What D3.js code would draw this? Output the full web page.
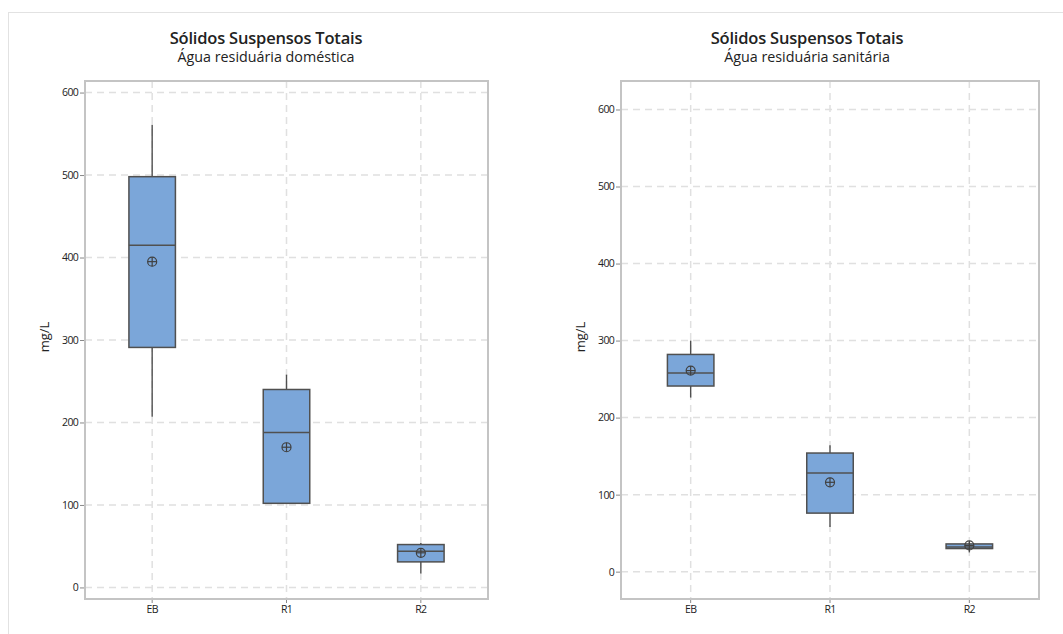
<!DOCTYPE html>
<html><head><meta charset="utf-8">
<script src="https://cdn.jsdelivr.net/npm/d3@7"></script>
<style>body{margin:0;background:#fff;} text{font-family:"Open Sans","Noto Sans",sans-serif;}</style>
</head><body>
<svg id="chart" width="1063" height="634"></svg>
<script>
const categories = ["EB", "R1", "R2"];
const yTicks = [0, 100, 200, 300, 400, 500, 600];
const titleMain = "Sólidos Suspensos Totais";
const subtitles = ["Água residuária doméstica", "Água residuária sanitária"];
const yLabel = "mg/L";
// domestic
const domesticWLow = [207, 102, 17];
const domesticQ1 = [291, 102, 31];
const domesticMed = [415, 188, 44];
const domesticQ3 = [498, 240, 52];
const domesticWHigh = [561, 258, 54];
const domesticMean = [395, 170, 42];
// sanitary
const sanitaryWLow = [226, 58, 25];
const sanitaryQ1 = [241, 76, 30];
const sanitaryMed = [258, 128, 32];
const sanitaryQ3 = [282, 154, 36];
const sanitaryWHigh = [300, 164, 38];
const sanitaryMean = [261, 116, 34];

const yDomains = [[-14, 614], [-35.5, 637]];

const panels = [
  {x0: 85, x1: 488, y0: 81, y1: 599, titleX: 266, labelX: 44,
   data: {lo: domesticWLow, q1: domesticQ1, med: domesticMed, q3: domesticQ3, hi: domesticWHigh, mean: domesticMean}},
  {x0: 621, x1: 1039, y0: 81, y1: 599, titleX: 807, labelX: 580,
   data: {lo: sanitaryWLow, q1: sanitaryQ1, med: sanitaryMed, q3: sanitaryQ3, hi: sanitaryWHigh, mean: sanitaryMean}}
];

const svg = d3.select("#chart");
svg.append("rect").attr("x", 8.5).attr("y", 12.5).attr("width", 1100).attr("height", 700)
  .attr("fill", "none").attr("stroke", "#e2e2e2").attr("stroke-width", 1);

const boxFill = "#7ba6d9", boxStroke = "#505050", gridCol = "#e0e0e0";

panels.forEach((p, pi) => {
  const g = svg.append("g");
  const x = d3.scaleBand().domain(categories).range([p.x0, p.x1]).padding(0);
  const y = d3.scaleLinear().domain(yDomains[pi]).range([p.y1, p.y0]);
  const cx = c => x(c) + x.bandwidth() / 2;

  g.selectAll(".hg").data(yTicks).join("line")
    .attr("x1", p.x0).attr("x2", p.x1).attr("y1", d => y(d)).attr("y2", d => y(d))
    .attr("stroke", gridCol).attr("stroke-width", 1.5).attr("stroke-dasharray", "7,5");
  g.selectAll(".vg").data(categories).join("line")
    .attr("x1", cx).attr("x2", cx).attr("y1", p.y0).attr("y2", p.y1)
    .attr("stroke", gridCol).attr("stroke-width", 1.5).attr("stroke-dasharray", "7,5");

  const ya = d3.axisLeft(y).tickValues(yTicks).tickSize(4).tickPadding(2);
  const yg = g.append("g").attr("transform", `translate(${p.x0 - 1},0)`).call(ya);
  yg.select(".domain").remove();
  yg.selectAll(".tick line").attr("stroke", "#888");
  yg.selectAll(".tick text").attr("font-size", 10.5).attr("fill", "#222").style("letter-spacing", "-0.7px");

  const xa = d3.axisBottom(x).tickSize(4).tickPadding(3);
  const xg = g.append("g").attr("transform", `translate(0,${p.y1})`).call(xa);
  xg.select(".domain").remove();
  xg.selectAll(".tick line").attr("stroke", "#888");
  xg.selectAll(".tick text").attr("font-size", 10.5).attr("fill", "#222").style("letter-spacing", "-0.7px");

  g.append("rect").attr("x", p.x0).attr("y", p.y0).attr("width", p.x1 - p.x0).attr("height", p.y1 - p.y0)
    .attr("fill", "none").attr("stroke", "#c4c4c4").attr("stroke-width", 2);

  const d = p.data;
  const bw = 46.5;
  const items = categories.map((c, i) => ({c, lo: d.lo[i], q1: d.q1[i], med: d.med[i], q3: d.q3[i], hi: d.hi[i], mean: d.mean[i]}));
  const bg = g.selectAll(".box").data(items).join("g");
  bg.append("line").attr("x1", e => cx(e.c)).attr("x2", e => cx(e.c))
    .attr("y1", e => y(e.hi)).attr("y2", e => y(e.q3)).attr("stroke", boxStroke).attr("stroke-width", 1.4);
  bg.append("line").attr("x1", e => cx(e.c)).attr("x2", e => cx(e.c))
    .attr("y1", e => y(e.q1)).attr("y2", e => y(e.lo)).attr("stroke", boxStroke).attr("stroke-width", 1.4);
  bg.append("rect").attr("x", e => cx(e.c) - bw / 2).attr("width", bw)
    .attr("y", e => y(e.q3)).attr("height", e => Math.max(1, y(e.q1) - y(e.q3)))
    .attr("fill", boxFill).attr("stroke", boxStroke).attr("stroke-width", 1.5);
  bg.append("line").attr("x1", e => cx(e.c) - bw / 2).attr("x2", e => cx(e.c) + bw / 2)
    .attr("y1", e => y(e.med)).attr("y2", e => y(e.med)).attr("stroke", boxStroke).attr("stroke-width", 1.5);
  const r = 4.5;
  bg.append("circle").attr("cx", e => cx(e.c)).attr("cy", e => y(e.mean)).attr("r", r)
    .attr("fill", "none").attr("stroke", "#404040").attr("stroke-width", 1.2);
  bg.append("line").attr("x1", e => cx(e.c) - r).attr("x2", e => cx(e.c) + r)
    .attr("y1", e => y(e.mean)).attr("y2", e => y(e.mean)).attr("stroke", "#404040").attr("stroke-width", 1.2);
  bg.append("line").attr("x1", e => cx(e.c)).attr("x2", e => cx(e.c))
    .attr("y1", e => y(e.mean) - r).attr("y2", e => y(e.mean) + r).attr("stroke", "#404040").attr("stroke-width", 1.2);

  g.append("text").attr("x", p.titleX).attr("y", 44).attr("text-anchor", "middle")
    .attr("font-size", 16.5).attr("font-weight", 600).attr("fill", "#222").style("letter-spacing", "-0.2px").text(titleMain);
  g.append("text").attr("x", p.titleX).attr("y", 62).attr("text-anchor", "middle")
    .attr("font-size", 14.3).attr("font-weight", 500).attr("fill", "#222").style("letter-spacing", "0px").text(subtitles[pi]);
  g.append("text").attr("transform", `translate(${p.labelX + 5},337) rotate(-90)`).attr("text-anchor", "middle")
    .attr("font-size", 13).attr("fill", "#222").text(yLabel);
});
</script>
</body></html>
